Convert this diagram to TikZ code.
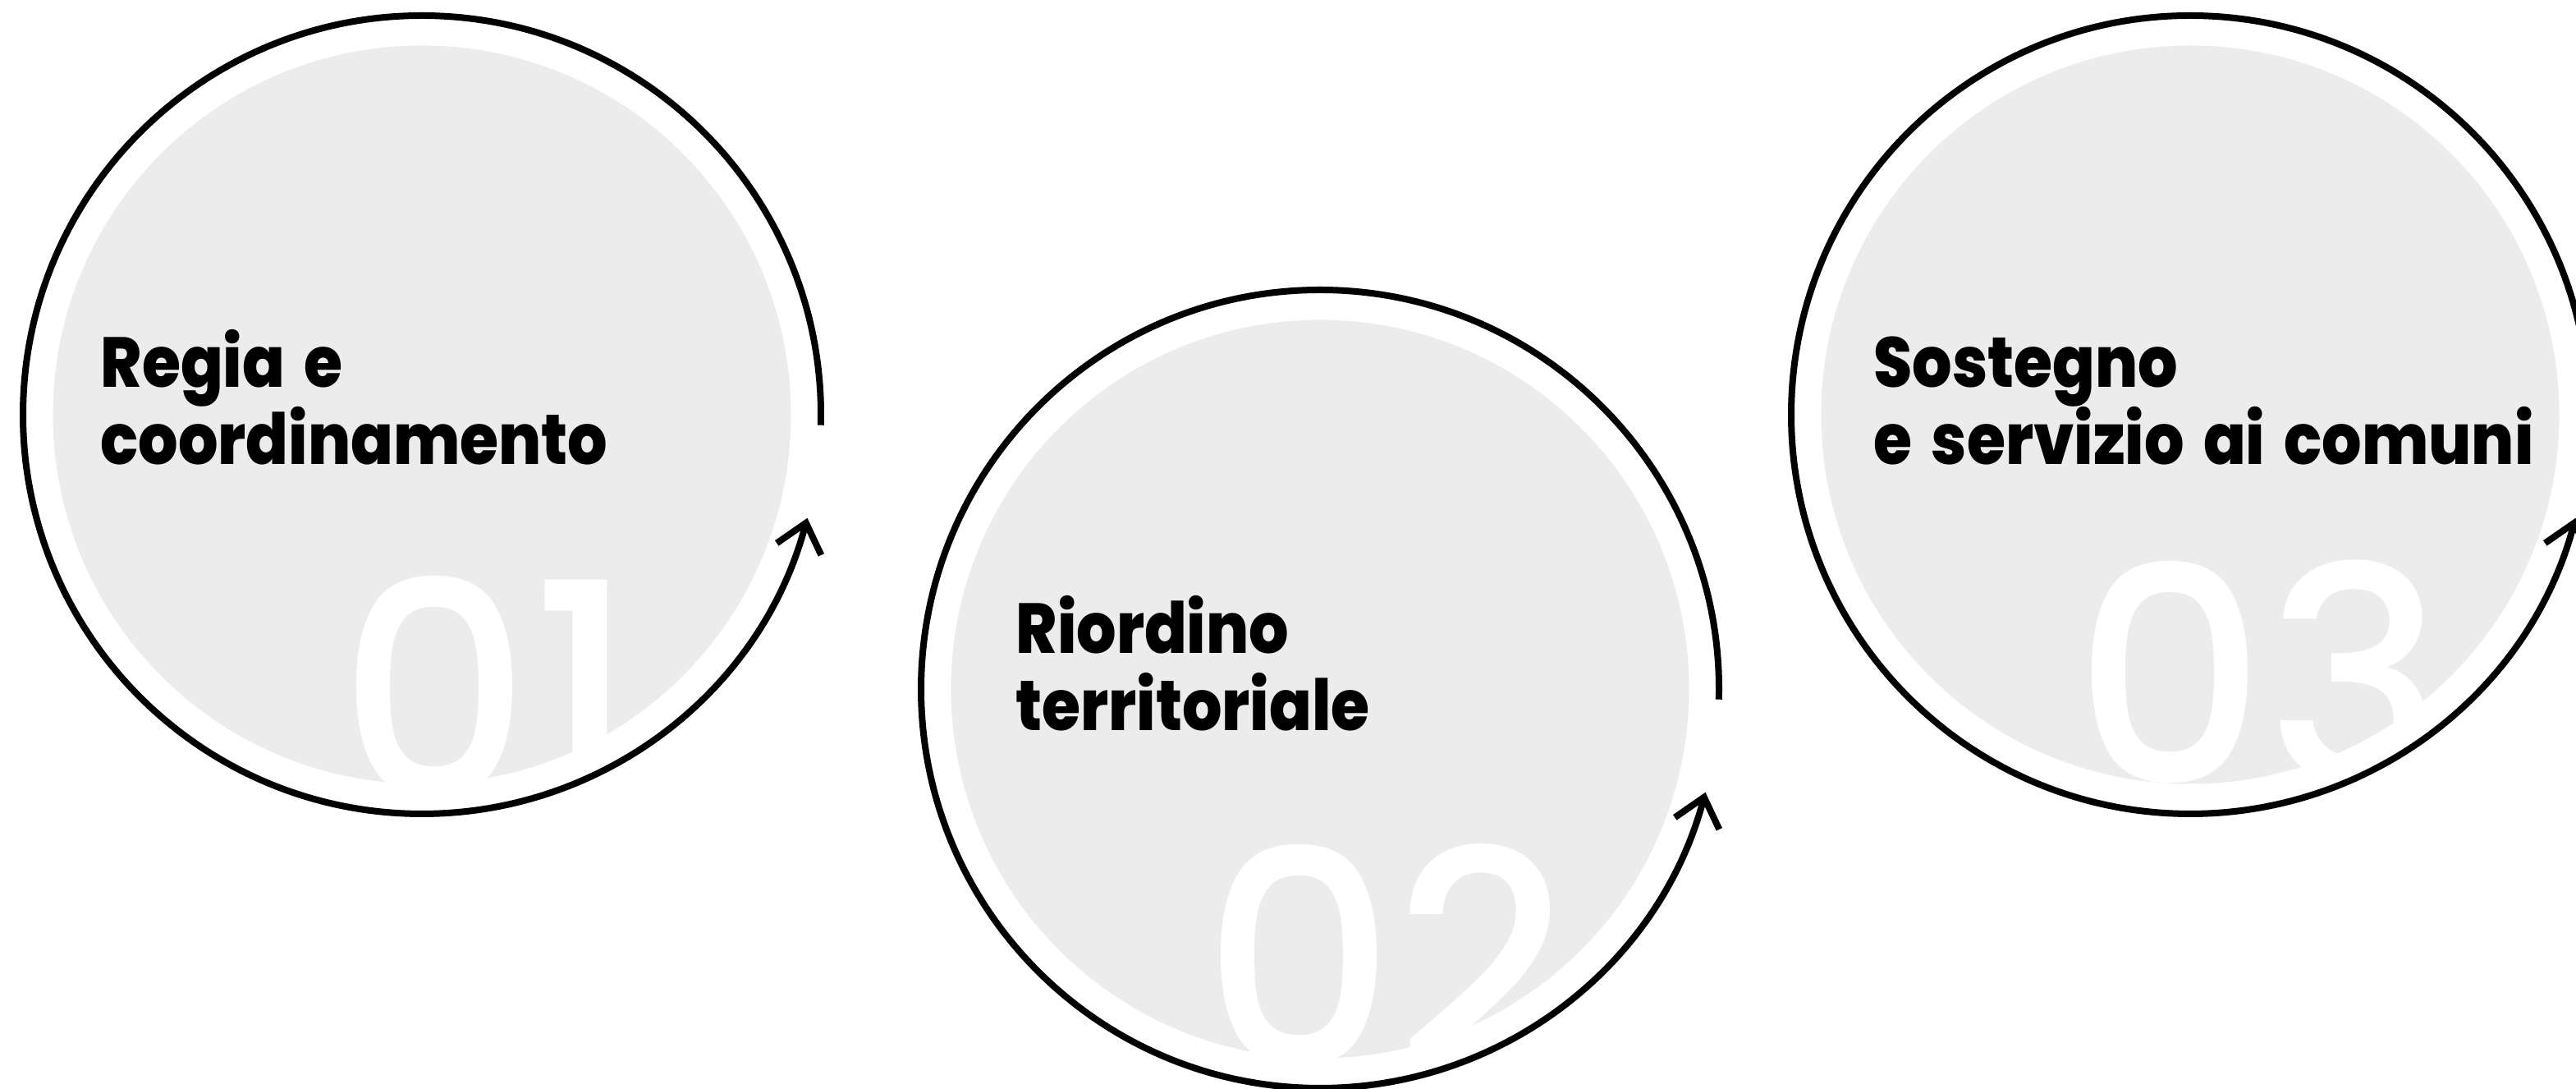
\documentclass[tikz,border=0pt]{standalone}
\usepackage{fontspec}
\setmainfont{Poppins}
\newfontfamily\lblfont[FakeStretch=0.885, WordSpace=1.6]{Poppins ExtraBold}
\newfontfamily\numfont{Poppins Medium}
\usetikzlibrary{arrows.meta}
\definecolor{diskgray}{RGB}{236,236,236}
\begin{document}
\begin{tikzpicture}[x=1cm,y=1cm,
  disk/.style={circle, fill=diskgray, minimum size=8.99cm, inner sep=0pt},
  ring/.style={line width=0.08cm, black, -{Straight Barb[length=0.33cm,width=0.56cm,line width=0.08cm]}},
  lbl/.style={font=\lblfont\fontsize{24.5}{27}\selectfont, align=left, anchor=base west, inner sep=0pt},
  num/.style={font=\numfont\fontsize{104}{104}\selectfont, text=white, anchor=base, inner sep=0pt}]
\clip (0,0) rectangle (31.38,13.26);
\fill[white] (0,0) rectangle (31.38,13.26);
% disks
\node[disk] (d1) at (5.14,8.21) {};
\node[disk] (d2) at (16.08,4.87) {};
\node[disk] (d3) at (26.68,8.21) {};
% big numbers
\node[num] (n1) at (5.94,3.53) {01};
\node[num] (n2) at (16.88,0.26) {02};
\node[num] (n3) at (27.52,3.71) {03};
% labels (anchor = baseline of the last line)
\node[lbl] (l1) at (1.22,7.60) {Regia e\\coordinamento};
\node[lbl] (l2) at (12.37,4.36) {Riordino\\territoriale};
\node[lbl] (l3) at (22.82,7.60) {Sostegno\\e servizio ai comuni};
% circular arrows
\draw[ring] ([shift={(-1.5:4.86)}]d1.center) arc[start angle=-1.5, end angle=345, radius=4.86];
\draw[ring] ([shift={(-1.5:4.86)}]d2.center) arc[start angle=-1.5, end angle=345, radius=4.86];
\draw[ring] ([shift={(-1.5:4.86)}]d3.center) arc[start angle=-1.5, end angle=345, radius=4.86];
\end{tikzpicture}
\end{document}
